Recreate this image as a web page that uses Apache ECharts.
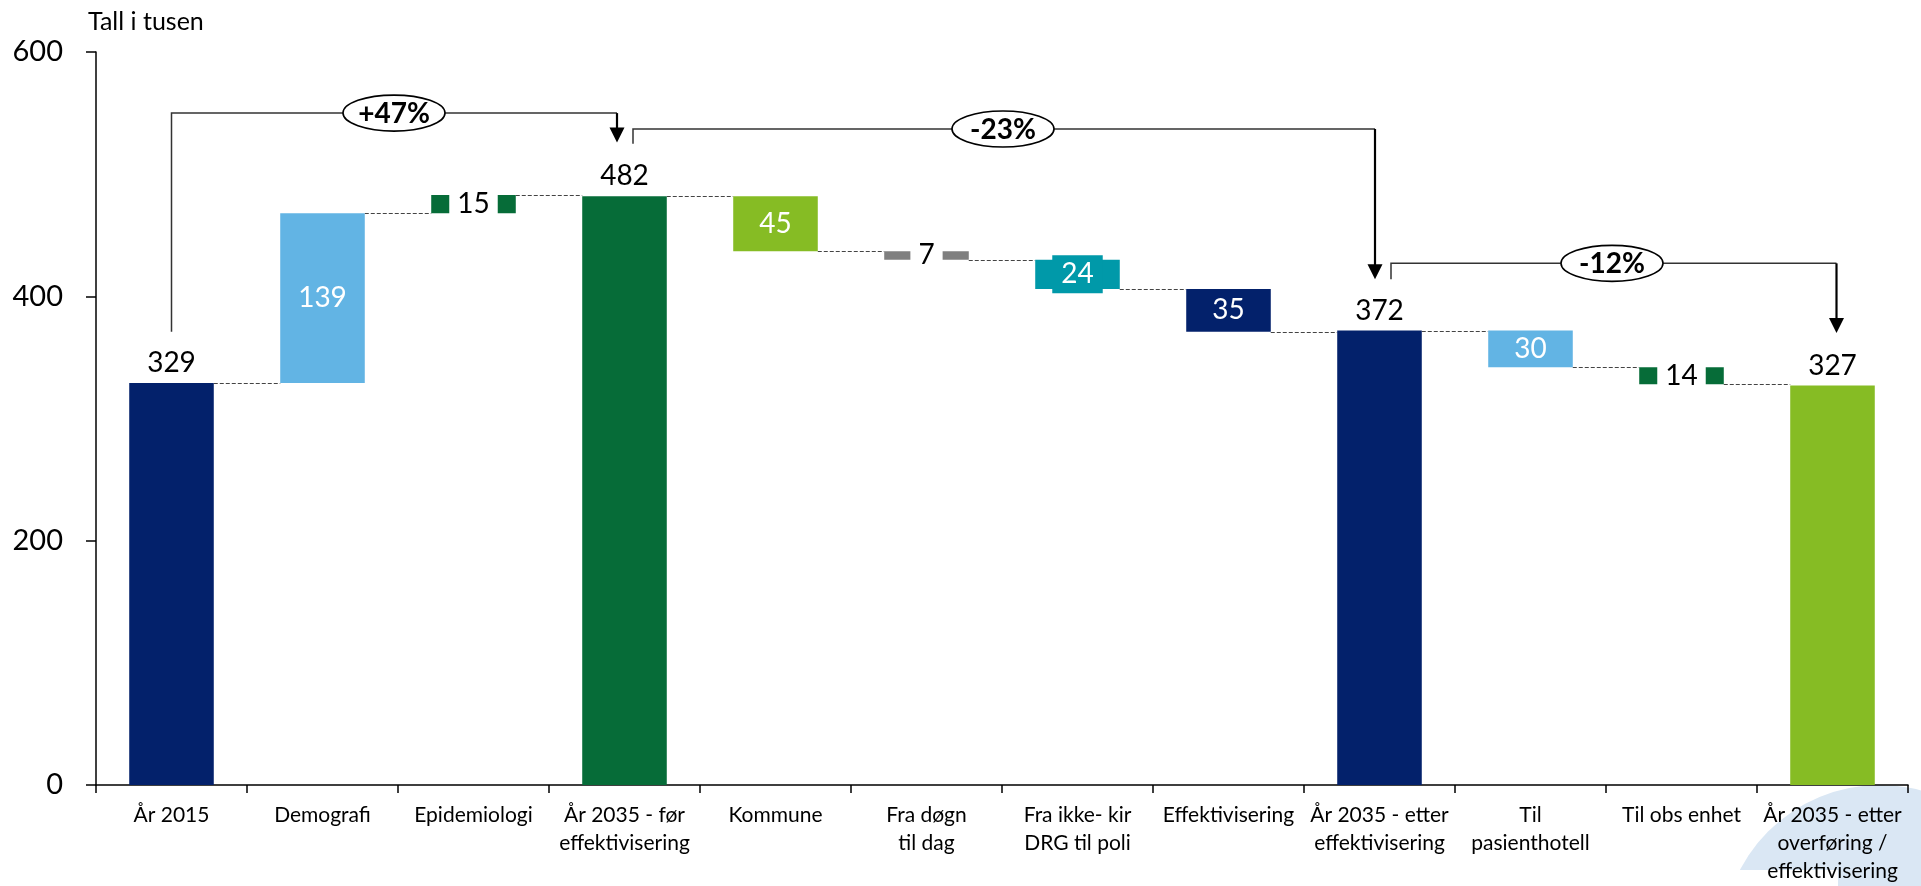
<!DOCTYPE html>
<html>
<head>
<meta charset="utf-8">
<script src="https://cdn.jsdelivr.net/npm/echarts@6/dist/echarts.min.js"></script>
<style>
html,body{margin:0;padding:0;background:#fff;}
#chart{width:1921px;height:886px;}
</style>
</head>
<body>
<div id="chart"></div>
<script>
// ---- data ----
const categories = ['År 2015', 'Demografi', 'Epidemiologi', 'År 2035 - før\neffektivisering', 'Kommune',
  'Fra døgn\ntil dag', 'Fra ikke- kir\nDRG til poli', 'Effektivisering', 'År 2035 - etter\neffektivisering',
  'Til\npasienthotell', 'Til obs enhet', 'År 2035 - etter\noverføring /\neffektivisering'];
const values = [329, 139, 15, 482, 45, 7, 24, 35, 372, 30, 14, 327];
const kinds = ['total', 'up', 'up', 'total', 'down', 'down', 'down', 'down', 'total', 'down', 'down', 'total'];
const yTicks = [0, 200, 400, 600];
// brackets: from category, to category, start level, top level, arrow tip level
const bracketFrom = [0, 3, 8];
const bracketTo = [3, 8, 11];
const bracketStart = [371, 525, 414];
const bracketTop = [550, 537, 427];
const bracketEnd = [526, 414, 370];
const bracketLabels = ['+47%', '-23%', '-12%'];
const bracketLabelAt = [2, 6, 10]; // category boundary where the label sits

// ---- styles ----
const barColors = ['#03216B', '#62B4E4', '#066C38', '#066C38', '#86BC24', '#7F7F7F', '#0099A9', '#03216B',
  '#03216B', '#62B4E4', '#066C38', '#86BC24'];
const labelKinds = ['top', 'in', 'cut', 'top', 'in', 'cut', 'pad', 'in', 'top', 'in', 'cut', 'top'];
const bracketStartDx = [0, 8.5, 11.5];
const bracketEndDx = [-7.5, -4.5, 4];
const bracketLabelDx = [-4, 1, 6];
const FONT = 'Lato, "Open Sans", sans-serif';
const BAR_FRAC = 0.56;

// ---- derive waterfall ----
const bases = [], ends = [];
let run = 0;
values.forEach((v, i) => {
  if (kinds[i] === 'total') { bases.push(0); run = v; }
  else if (kinds[i] === 'up') { bases.push(run); run += v; }
  else { run -= v; bases.push(run); }
  ends.push(run);
});

const chart = echarts.init(document.getElementById('chart'));

function labelFor(i) {
  const k = labelKinds[i];
  const base = { show: true, fontFamily: FONT, fontSize: 28, formatter: String(values[i]) };
  if (k === 'top') return Object.assign(base, { position: 'top', distance: 6, color: '#000' });
  if (k === 'in') return Object.assign(base, { position: 'inside', color: '#fff' });
  if (k === 'cut') return Object.assign(base, { position: 'inside', color: '#000', backgroundColor: '#fff', padding: [0, 8] });
  return Object.assign(base, { position: 'inside', color: '#fff', backgroundColor: barColors[i], padding: [5, 9] });
}

const connectorData = [];
for (let i = 0; i < categories.length - 1; i++) connectorData.push([i, ends[i]]);

const bracketData = bracketFrom.map((f, i) => [f, bracketTo[i], bracketStart[i], bracketTop[i], bracketEnd[i], bracketLabelAt[i]]);

chart.setOption({
  animation: false,
  title: {
    text: 'Tall i tusen', left: 83, top: 4,
    textStyle: { fontFamily: FONT, fontSize: 25, fontWeight: 'normal', color: '#000' }
  },
  grid: { left: 96, right: 13, top: 52, bottom: 101, containLabel: false },
  xAxis: {
    type: 'category', data: categories,
    axisLine: { lineStyle: { color: '#000', width: 1.5 } },
    axisTick: { show: true, length: 8, lineStyle: { color: '#000', width: 1.5 } },
    axisLabel: { interval: 0, color: '#000', fontFamily: FONT, fontSize: 21, lineHeight: 28, margin: 16 },
    splitLine: { show: false }
  },
  yAxis: {
    type: 'value', min: yTicks[0], max: yTicks[yTicks.length - 1], interval: yTicks[1] - yTicks[0],
    axisLine: { show: true, lineStyle: { color: '#000', width: 1.5 } },
    axisTick: { show: true, length: 10, lineStyle: { color: '#000', width: 1.5 } },
    axisLabel: { color: '#000', fontFamily: FONT, fontSize: 29, margin: 33 },
    splitLine: { show: false }
  },
  graphic: [
    { type: 'circle', z: -10, shape: { cx: 1880, cy: 943, r: 158 }, style: { fill: '#DAE7F4' } },
    { type: 'rect', z: -9, shape: { x: 1690, y: 870, width: 148, height: 20 }, style: { fill: '#fff' } }
  ],
  series: [
    {
      type: 'bar', stack: 'w', data: bases, barWidth: (BAR_FRAC * 100) + '%',
      itemStyle: { color: 'transparent' }, silent: true, z: 2
    },
    {
      type: 'bar', stack: 'w', barWidth: (BAR_FRAC * 100) + '%', z: 3,
      data: values.map((v, i) => ({ value: v, itemStyle: { color: barColors[i] }, label: labelFor(i) }))
    },
    {
      type: 'custom', z: 1, silent: true, data: connectorData, encode: { x: 0, y: 1 },
      renderItem: function (params, api) {
        const i = api.value(0), lvl = api.value(1);
        const half = api.size([1, 0])[0] * BAR_FRAC / 2;
        const p1 = api.coord([i, lvl]), p2 = api.coord([i + 1, lvl]);
        return {
          type: 'line',
          shape: { x1: p1[0] + half, y1: Math.round(p1[1]) + 0.5, x2: p2[0] - half, y2: Math.round(p1[1]) + 0.5 },
          style: { stroke: '#444', lineWidth: 1, lineDash: [4, 2] }
        };
      }
    },
    {
      type: 'custom', z: 5, silent: true, clip: false, data: bracketData, encode: { x: 0, y: 2 },
      renderItem: function (params, api) {
        const k = params.dataIndex;
        const f = api.value(0), t = api.value(1);
        const xs = api.coord([f, api.value(2)])[0] + bracketStartDx[k];
        const ys = api.coord([f, api.value(2)])[1];
        const yt = api.coord([f, api.value(3)])[1];
        const xe = api.coord([t, api.value(4)])[0] + bracketEndDx[k];
        const ye = api.coord([t, api.value(4)])[1];
        const li = api.value(5);
        const xl = (api.coord([li - 1, 0])[0] + api.coord([li, 0])[0]) / 2 + bracketLabelDx[k];
        const ah = 15, aw = 7.5;
        return {
          type: 'group',
          children: [
            { type: 'polyline', shape: { points: [[xs, ys], [xs, yt], [xe, yt]] },
              style: { stroke: '#333', lineWidth: 1.5, fill: null } },
            { type: 'line', shape: { x1: xe, y1: yt, x2: xe, y2: ye - ah + 1 },
              style: { stroke: '#000', lineWidth: 2.2 } },
            { type: 'polygon', shape: { points: [[xe - aw, ye - ah], [xe + aw, ye - ah], [xe, ye]] },
              style: { fill: '#000' } },
            { type: 'ellipse', shape: { cx: xl, cy: yt, rx: 51, ry: 18 },
              style: { fill: '#fff', stroke: '#000', lineWidth: 1.6 } },
            { type: 'text', x: xl, y: yt + 1,
              style: { text: bracketLabels[k], fontFamily: FONT, fontSize: 28, fontWeight: 'bold', fill: '#000',
                align: 'center', verticalAlign: 'middle' } }
          ]
        };
      }
    }
  ]
});
</script>
</body>
</html>
